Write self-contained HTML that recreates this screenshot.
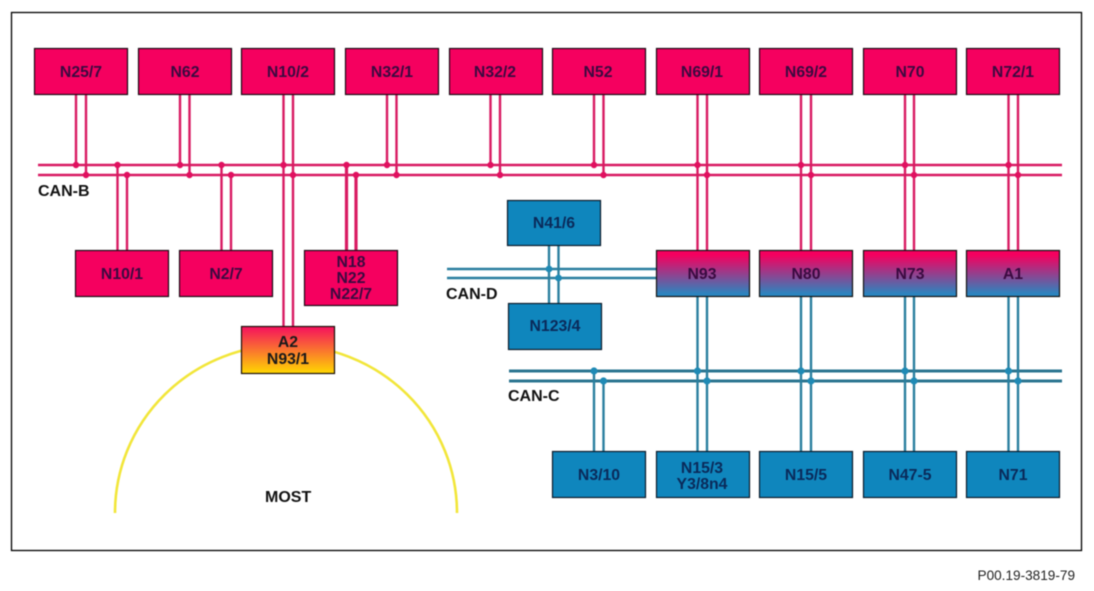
<!DOCTYPE html>
<html>
<head>
<meta charset="utf-8">
<style>
html,body{margin:0;padding:0;background:#fff;width:1094px;height:591px;overflow:hidden}
svg{display:block;filter:blur(.45px)}
text{font-family:"Liberation Sans",sans-serif;font-weight:bold;font-size:15.8px;text-anchor:middle;fill:#3a0a40}
.l{fill:#111;text-anchor:start;font-size:16px}
.b text{fill:#0a2a5a}
.d{fill:#1a1a1a}
</style>
</head>
<body>
<svg width="1094" height="591" viewBox="0 0 1094 591" xmlns="http://www.w3.org/2000/svg">
<defs>
<linearGradient id="g1" x1="0" y1="0" x2="0" y2="1"><stop offset="0.1" stop-color="#f5005f"/><stop offset="0.95" stop-color="#2a86c0"/></linearGradient>
<linearGradient id="g2" x1="0" y1="0" x2="0" y2="1"><stop offset="0" stop-color="#f5105f"/><stop offset="1" stop-color="#ffd800"/></linearGradient>
</defs>
<rect x="11.5" y="12.5" width="1070" height="538" fill="#fff" stroke="#000" stroke-width="1.3"/>

<path d="M115 513A171 168 0 0 1 457 513" fill="none" stroke="#f2e63a" stroke-width="2.6"/>

<g stroke="#d81a62" stroke-width="2.4" fill="none">
<path d="M38 165H1062M38 175H1062"/>
<path d="M76 94V165M86 94V175M180 94V165M189.500 94V175M283.500 94V326M293 94V326M387 94V165M396.500 94V175M490.500 94V165M500 94V175M594 94V165M603.500 94V175M697.500 94V250M707 94V250M801 94V250M811 94V250M905 94V250M914 94V250M1008.500 94V250M1018 94V250"/>
<path d="M117.500 165V250M127 175V250M221.500 165V250M231 175V250"/>
<path d="M346.500 165V250M356 175V250" stroke-width="3.2"/>
</g>
<g fill="#e0105f">
<circle cx="76" cy="165" r="3.2"/><circle cx="86" cy="175" r="3.2"/><circle cx="117.500" cy="165" r="3.2"/><circle cx="127" cy="175" r="3.2"/>
<circle cx="180" cy="165" r="3.2"/><circle cx="189.500" cy="175" r="3.2"/><circle cx="221.500" cy="165" r="3.2"/><circle cx="231" cy="175" r="3.2"/>
<circle cx="283.500" cy="165" r="3.2"/><circle cx="293" cy="175" r="3.2"/><circle cx="346.500" cy="165" r="3.2"/><circle cx="356" cy="175" r="3.2"/>
<circle cx="387" cy="165" r="3.2"/><circle cx="396.500" cy="175" r="3.2"/><circle cx="490.500" cy="165" r="3.2"/><circle cx="500" cy="175" r="3.2"/>
<circle cx="594" cy="165" r="3.2"/><circle cx="603.500" cy="175" r="3.2"/><circle cx="697.500" cy="165" r="3.2"/><circle cx="707" cy="175" r="3.2"/>
<circle cx="801" cy="165" r="3.2"/><circle cx="811" cy="175" r="3.2"/><circle cx="905" cy="165" r="3.2"/><circle cx="914" cy="175" r="3.2"/>
<circle cx="1008.500" cy="165" r="3.2"/><circle cx="1018" cy="175" r="3.2"/>
</g>

<g stroke="#2a7f9f" fill="none">
<path d="M447 269H656M447 278H656M549 245V303M558.500 245V303" stroke-width="2.4"/>
<path d="M509 371H1062M509 381H1062" stroke-width="3" stroke="#2a7590"/>
<path d="M594 371V451M603.500 381V451M697.500 296V451M707 296V451M801 296V451M811 296V451M905 296V451M914 296V451M1008.500 296V451M1018 296V451" stroke-width="2.4"/>
</g>
<g fill="#1f8ab5">
<circle cx="549" cy="269" r="3.4"/><circle cx="558.500" cy="278" r="3.4"/>
<circle cx="594" cy="371" r="3.6"/><circle cx="603.500" cy="381" r="3.6"/><circle cx="697.500" cy="371" r="3.6"/><circle cx="707" cy="381" r="3.6"/>
<circle cx="801" cy="371" r="3.6"/><circle cx="811" cy="381" r="3.6"/><circle cx="905" cy="371" r="3.6"/><circle cx="914" cy="381" r="3.6"/>
<circle cx="1008.500" cy="371" r="3.6"/><circle cx="1018" cy="381" r="3.6"/>
</g>

<g fill="#f5005f" stroke="#1a0a14" stroke-width="1.2">
<rect x="34.500" y="48.500" width="93" height="46"/><rect x="138.500" y="48.500" width="93" height="46"/><rect x="241.500" y="48.500" width="93" height="46"/><rect x="345.500" y="48.500" width="93" height="46"/><rect x="449.500" y="48.500" width="93" height="46"/>
<rect x="552.500" y="48.500" width="93" height="46"/><rect x="656.500" y="48.500" width="93" height="46"/><rect x="759.500" y="48.500" width="93" height="46"/><rect x="863.500" y="48.500" width="93" height="46"/><rect x="966.500" y="48.500" width="93" height="46"/>
<rect x="75.500" y="250.500" width="93" height="46"/><rect x="179.500" y="250.500" width="93" height="46"/><rect x="304.500" y="250.500" width="93" height="55"/>
</g>
<g fill="url(#g1)" stroke="#111" stroke-width="1.2">
<rect x="656.500" y="250.500" width="93" height="46"/><rect x="759.500" y="250.500" width="93" height="46"/><rect x="863.500" y="250.500" width="93" height="46"/><rect x="966.500" y="250.500" width="93" height="46"/>
</g>
<rect x="241.500" y="326.500" width="93" height="47" fill="url(#g2)" stroke="#1a0f08" stroke-width="1.2"/>
<g fill="#0f86bd" stroke="#0a1a2a" stroke-width="1.2">
<rect x="507.500" y="200.500" width="93" height="45"/><rect x="508.500" y="303.500" width="93" height="46"/>
<rect x="552.500" y="451.500" width="93" height="46"/><rect x="656.500" y="451.500" width="93" height="46"/><rect x="759.500" y="451.500" width="93" height="46"/><rect x="863.500" y="451.500" width="93" height="46"/><rect x="966.500" y="451.500" width="93" height="46"/>
</g>

<text x="81" y="77">N25/7</text><text x="185" y="77">N62</text><text x="288" y="77">N10/2</text><text x="392" y="77">N32/1</text><text x="495" y="77">N32/2</text>
<text x="598" y="77">N52</text><text x="702" y="77">N69/1</text><text x="806" y="77">N69/2</text><text x="910" y="77">N70</text><text x="1013" y="77">N72/1</text>
<text x="122" y="279">N10/1</text><text x="226" y="279">N2/7</text>
<text x="351" y="267">N18</text><text x="351" y="283">N22</text><text x="351" y="299">N22/7</text>
<text x="702" y="279">N93</text><text x="806" y="279">N80</text><text x="910" y="279">N73</text><text x="1013" y="279">A1</text>
<text x="288" y="347" class="d">A2</text><text x="288" y="364" class="d">N93/1</text>
<g class="b">
<text x="554" y="228">N41/6</text><text x="555" y="331">N123/4</text>
<text x="599" y="480">N3/10</text><text x="702" y="473">N15/3</text><text x="702" y="489">Y3/8n4</text><text x="806" y="480">N15/5</text><text x="910" y="480">N47-5</text><text x="1013" y="480">N71</text>
</g>
<text class="l" x="38" y="196">CAN-B</text>
<text class="l" x="446" y="299">CAN-D</text>
<text class="l" x="508" y="401">CAN-C</text>
<text class="l" x="265" y="502">MOST</text>
<text x="1075" y="580" style="font-weight:normal;font-size:13.6px;text-anchor:end;fill:#222">P00.19-3819-79</text>
</svg>
</body>
</html>
